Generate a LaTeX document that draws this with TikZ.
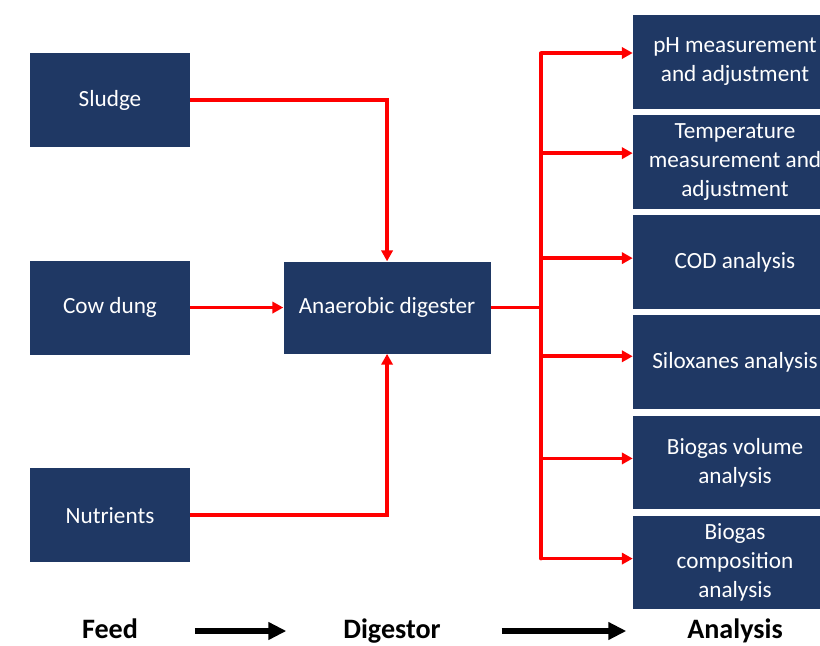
\documentclass[tikz,border=0pt]{standalone}
\usepackage{fontspec}
\setmainfont{Carlito}
\usepackage{xcolor}
\definecolor{boxnavy}{HTML}{1F3864}
\definecolor{flowred}{RGB}{255,0,0}
\usepackage{tikz}
\usetikzlibrary{positioning,arrows.meta}

\begin{document}
\begin{tikzpicture}[
    box/.style={rectangle,draw=none,fill=boxnavy,text=white,align=center,
                font=\fontsize{16.5}{20.5}\selectfont,inner sep=0pt},
    feedbox/.style={box,minimum width=4cm,minimum height=2.35cm},
    testbox/.style={box,minimum width=5.1cm,minimum height=2.34cm},
    flow/.style={-{Triangle[length=0.27cm,width=0.28cm]},flowred,line width=2.6pt},
    redline/.style={flowred,line width=2.6pt},
    stage/.style={font=\fontsize{20}{24}\selectfont\bfseries,
                  text height=14pt,text depth=4pt},
    stagearrow/.style={-{Triangle[length=0.45cm,width=0.42cm]},line width=3.6pt,black}]
        \clip (0,0) rectangle (20.5,16.125);
        \fill[white] (0,0) rectangle (20.5,16.125);
        % feed
        \node[feedbox] (sludge) at (2.75,13.625) {Sludge};
        \node[feedbox,below=2.825cm of sludge] (cow) {Cow dung};
        \node[feedbox,below=2.825cm of cow] (nutri) {Nutrients};
        % digester
        \node[box,minimum width=5.175cm,minimum height=2.3cm,
              right=2.325cm of cow] (dig) {Anaerobic digester};
        % analysis
        \node[testbox] (ph) at (18.375,14.58) {pH measurement\\and adjustment};
        \node[testbox,below=0.15cm of ph] (temp) {Temperature\\measurement and\\adjustment};
        \node[testbox,below=0.15cm of temp] (cod) {COD analysis};
        \node[testbox,below=0.15cm of cod] (silox) {Siloxanes analysis};
        \node[testbox,below=0.15cm of silox] (vol) {Biogas volume\\analysis};
        \node[testbox,below=0.15cm of vol] (comp) {Biogas\\composition\\analysis};
        \coordinate (bus) at (13.525,0 |- dig.east);
        \draw[flow] (sludge.east) -| (dig.north);
        \draw[flow] (cow) -- (dig);
        \draw[flow] (nutri.east) -| (dig.south);
        \draw[redline] (dig.east) -- (bus);
        \draw[redline,line cap=round] ([yshift=0.22cm]bus |- ph.west) -- ([yshift=0.1cm]bus |- comp.west);
        \foreach \t/\s in {ph/0.22,temp/0.22,cod/0.1,silox/0.15,vol/0.1,comp/0.1}
          \draw[flow] ([yshift=\s cm]bus |- \t.west) -- ([yshift=\s cm]\t.west);
        % stages
        \node[stage] (feed) at (2.75,0.35) {Feed};
        \node[stage] (digestor) at (9.8,0.35) {Digestor};
        \node[stage] (analysis) at (18.375,0.35) {Analysis};
        \draw[stagearrow,shorten <=1.3cm,shorten >=1.3cm] (feed) -- (digestor);
        \draw[stagearrow,shorten <=1.4cm,shorten >=1.4cm] (digestor) -- (analysis);
      \end{tikzpicture}
\end{document}
